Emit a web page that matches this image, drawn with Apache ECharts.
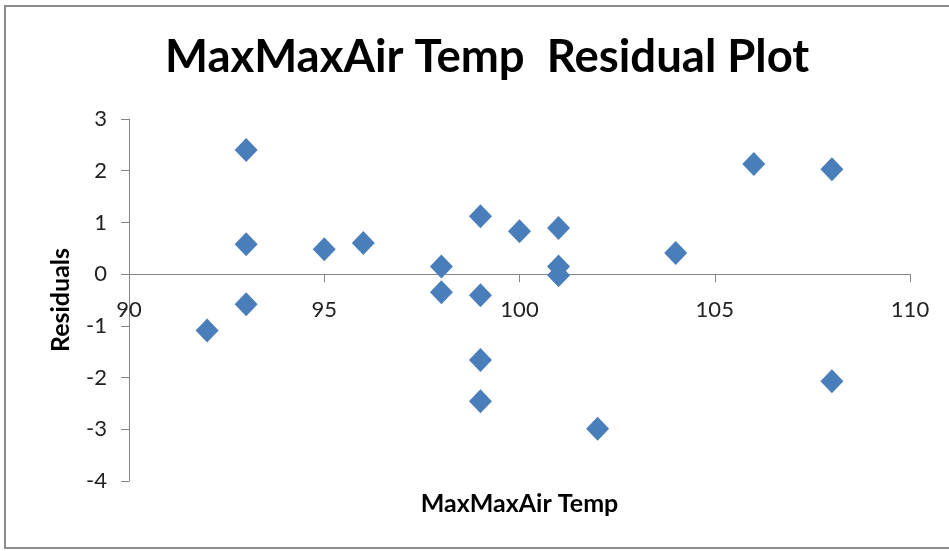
<!DOCTYPE html>
<html>
<head>
<meta charset="utf-8">
<script src="https://cdn.jsdelivr.net/npm/echarts@6/dist/echarts.min.js"></script>
<style>
html,body{margin:0;padding:0;background:#fff;}
#frame{position:absolute;left:4px;top:5px;width:950px;height:544px;border:2px solid #8c8c8c;box-sizing:border-box;}
#chart{position:absolute;left:0;top:0;width:949px;height:551px;}
</style>
</head>
<body>
<div id="frame"></div>
<div id="chart"></div>
<script>
const titleText = 'MaxMaxAir Temp  Residual Plot';
const xName = 'MaxMaxAir Temp';
const yName = 'Residuals';
const tempValues = [92, 93, 93, 93, 95, 96, 98, 98, 99, 99, 99, 99, 100, 101, 101, 101, 102, 104, 106, 108, 108];
const residuals = [-1.09, 2.40, 0.58, -0.58, 0.48, 0.60, 0.15, -0.35, 1.12, -0.41, -1.66, -2.46, 0.83, 0.89, 0.15, -0.02, -2.99, 0.41, 2.13, 2.03, -2.07];
const xTicks = {min: 90, max: 110, interval: 5};
const yTicks = {min: -4, max: 3, interval: 1};

const chart = echarts.init(document.getElementById('chart'), null, {renderer: 'canvas'});
const font = 'Lato, "Open Sans", sans-serif';
const gridTop = 119, gridBottom = 70, gridH = 551 - gridTop - gridBottom;
// offset that lifts the bottom x axis to the y = 0 line
const zeroOffset = -gridH * (0 - yTicks.min) / (yTicks.max - yTicks.min);
chart.setOption({
  backgroundColor: 'transparent',
  animation: false,
  title: {
    text: titleText,
    left: 160,
    top: 29,
    textStyle: {fontFamily: font, fontSize: 45.5, fontWeight: 'bold', color: '#000'}
  },
  grid: {left: 129, right: 39, top: gridTop, bottom: gridBottom, containLabel: false},
  xAxis: [{
    type: 'value',
    position: 'bottom',
    offset: zeroOffset,
    min: xTicks.min, max: xTicks.max, interval: xTicks.interval,
    axisLine: {onZero: false, lineStyle: {color: '#868686', width: 1}},
    axisTick: {show: true, inside: false, length: 8, lineStyle: {color: '#868686'}},
    axisLabel: {fontFamily: font, fontSize: 22, color: '#222', margin: 25},
    splitLine: {show: false}
  }, {
    type: 'value',
    position: 'bottom',
    offset: 0,
    min: xTicks.min, max: xTicks.max, interval: xTicks.interval,
    name: xName,
    nameLocation: 'middle',
    nameGap: 10,
    nameTextStyle: {fontFamily: font, fontSize: 25, fontWeight: 'bold', color: '#000', verticalAlign: 'top'},
    axisLine: {show: false, onZero: false},
    axisTick: {show: false},
    axisLabel: {show: false},
    splitLine: {show: false}
  }],
  yAxis: {
    type: 'value',
    min: yTicks.min, max: yTicks.max, interval: yTicks.interval,
    name: yName,
    nameLocation: 'middle',
    nameGap: 56,
    nameRotate: 90,
    nameTextStyle: {fontFamily: font, fontSize: 25, fontWeight: 'bold', color: '#000'},
    axisLine: {show: true, onZero: false, lineStyle: {color: '#868686', width: 1}},
    axisTick: {show: true, inside: false, length: 8, lineStyle: {color: '#868686'}},
    axisLabel: {fontFamily: font, fontSize: 22, color: '#222', margin: 22},
    splitLine: {show: false}
  },
  series: [{
    type: 'scatter',
    xAxisIndex: 0,
    symbol: 'diamond',
    symbolSize: [23, 24],
    itemStyle: {color: '#4a7ebb', opacity: 1},
    data: tempValues.map((t, i) => [t, residuals[i]])
  }]
});
</script>
</body>
</html>
